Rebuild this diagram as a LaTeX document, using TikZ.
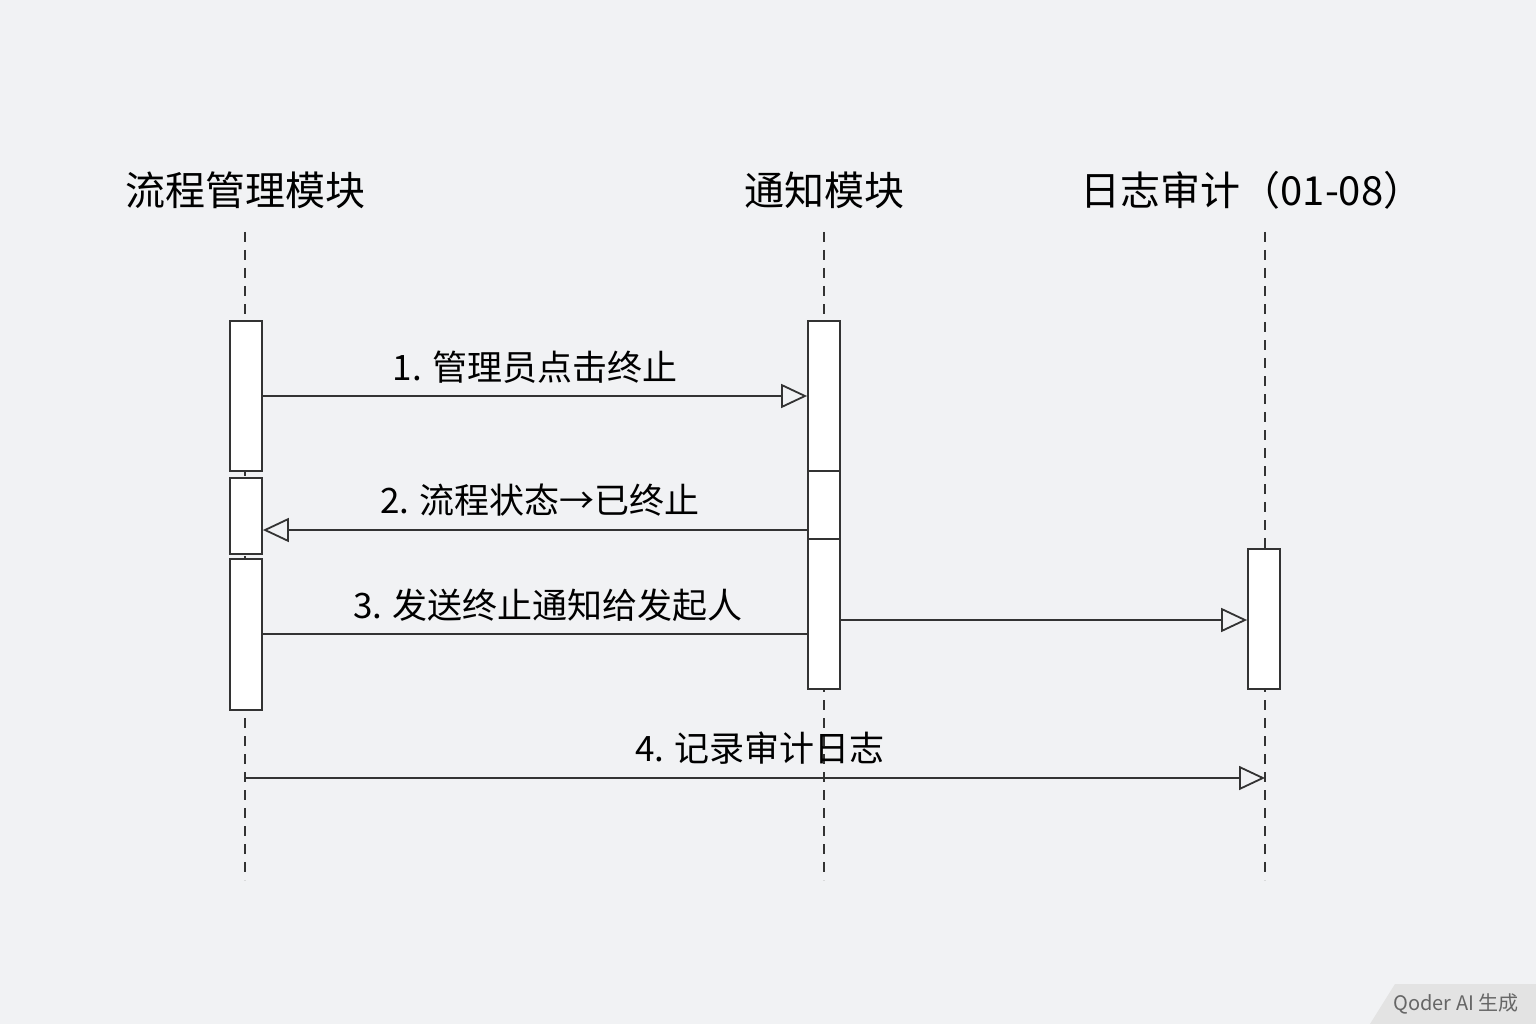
\documentclass[tikz,border=0pt]{standalone}
\usepackage{fontspec}
\setmainfont{Noto Sans CJK SC}
\usetikzlibrary{arrows.meta}
\definecolor{bg}{HTML}{F1F2F4}
\definecolor{ln}{HTML}{333333}
\begin{document}
\begin{tikzpicture}[x=1pt,y=-1pt,
  life/.style={draw=ln,line width=1.8pt,dash pattern=on 10pt off 8pt},
  act/.style={draw=ln,line width=1.8pt,fill=white,minimum width=32pt,inner sep=0pt,anchor=north},
  msg/.style={draw=ln,line width=1.8pt,-{Triangle[open,length=26pt,width=24pt,line width=1.8pt]}},
  plain/.style={draw=ln,line width=1.8pt},
  head/.style={font=\fontsize{40}{44}\selectfont,text=black},
  lbl/.style={font=\fontsize{35}{40}\selectfont,text=black}]
\path[fill=bg] (0,0) rectangle (1536,1024);
\useasboundingbox (0,0) rectangle (1536,1024);
% headers
\node[head] (hA) at (245,190) {流程管理模块};
\node[head] (hB) at (824,190) {通知模块};
\node[head] (hC) at (1252,190) {日志审计（01-08）};
% lifelines
\coordinate (a0) at (245,232); \coordinate (a1) at (245,880);
\coordinate (b0) at (824,232); \coordinate (b1) at (824,880);
\coordinate (c0) at (1265,232); \coordinate (c1) at (1265,880);
\draw[life] (a0)--(a1); \draw[life] (b0)--(b1); \draw[life] (c0)--(c1);
% activations
\node[act,minimum height=150pt] (A1) at (246,320) {};
\node[act,minimum height=76pt] (A2) at (246,477) {};
\node[act,minimum height=151pt] (A3) at (246,558) {};
\node[act,minimum height=150pt] (B1) at (824,320) {};
\node[act,minimum height=68pt] (B2) at (824,470) {};
\node[act,minimum height=150pt] (B3) at (824,538) {};
\node[act,minimum height=140pt] (C1) at (1264,548) {};
% messages
\draw[msg] (A1.east |- 0,396) -- (B1.west |- 0,396);
\node[lbl] (l1) at (535,367) {1. 管理员点击终止};
\draw[msg] (B2.west |- 0,530) -- (A2.east |- 0,530);
\node[lbl] (l2) at (540,500) {2. 流程状态→已终止};
\draw[plain] (B3.west |- 0,634) -- (A3.east |- 0,634);
\node[lbl] (l3) at (548,605) {3. 发送终止通知给发起人};
\draw[msg] (B3.east |- 0,620) -- (C1.west |- 0,620);
\coordinate (s4) at (245,778); \coordinate (e4) at (1265,778);
\draw[msg] (s4) -- (e4);
\node[lbl] (l4) at (760,748) {4. 记录审计日志};
% watermark
\fill[gray!22] (1370,1024) -- (1395,984) -- (1536,984) -- (1536,1024) -- cycle;
\node[font=\fontsize{20}{22}\selectfont,text=gray!80!black] (wm) at (1456,1004) {Qoder AI 生成};
\end{tikzpicture}
\end{document}
